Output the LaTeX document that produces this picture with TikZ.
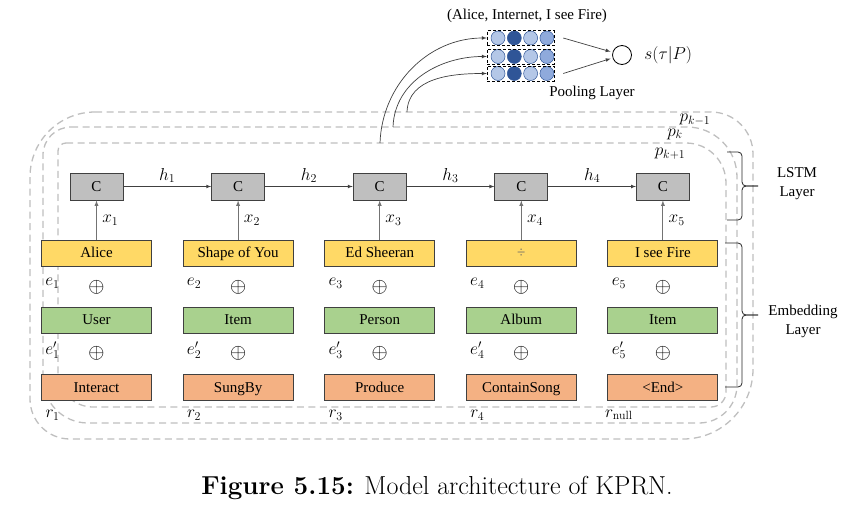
\documentclass[tikz,border=0pt]{standalone}
\usepackage{fontspec}
\newfontfamily\timesfont{Liberation Serif}
\usepackage{tikz}
\usetikzlibrary{shapes,arrows,positioning,calc}
\usepackage{xcolor}
\definecolor{entyellow}{HTML}{FFD966}
\definecolor{typgreen}{HTML}{A9D18E}
\definecolor{relorange}{HTML}{F4B183}
\definecolor{cellgray}{HTML}{BFBFBF}
\definecolor{poollight}{HTML}{B4C7E7}
\definecolor{pooldark}{HTML}{2F5597}
\definecolor{poolmid}{HTML}{8FAADC}

\begin{document}
\begin{tikzpicture}[x=1pt,y=1pt,
    lbl/.style={font=\timesfont\fontsize{15}{19}\selectfont},
    mth/.style={font=\fontsize{17}{19}\selectfont},
    plus/.style={font=\fontsize{21}{23}\selectfont},
    cell/.style={lbl, draw=black!75, line width=0.9pt, fill=cellgray, minimum width=53pt, minimum height=27pt, inner sep=0pt},
    emb/.style={lbl, draw=black!75, line width=0.9pt, minimum width=110pt, minimum height=26pt, inner sep=0pt, text height=10pt, text depth=1pt},
    pathline/.style={draw=black!25, line width=1.3pt, dash pattern=on 7pt off 4.5pt},
    xarrow/.style={-latex, draw=black!55, line width=0.9pt},
    harrow/.style={-latex, draw=black!75, line width=0.7pt},
    poolrow/.style={draw, densely dashed, line width=0.5pt, minimum width=67pt, minimum height=15pt, inner sep=0pt},
    ball/.style={circle, draw=pooldark, line width=0.5pt, minimum size=14pt, inner sep=0pt},
    bracket/.style={draw=black!85, line width=0.8pt, rounded corners=4pt}]
  \useasboundingbox (0,0) rectangle (864,-514);

  % dashed paths p_{k-1}, p_k, p_{k+1}
  \draw[pathline] (95,-112) -- (711,-112) arc[start angle=90,end angle=0,radius=42] -- (753,-369) arc[start angle=0,end angle=-90,radius=70] -- (70,-439) arc[start angle=270,end angle=180,radius=40] -- (30,-177) arc[start angle=180,end angle=90,radius=65] -- cycle;
  \draw[pathline] (71,-127) -- (687,-127) arc[start angle=90,end angle=0,radius=50] -- (737,-385) arc[start angle=0,end angle=-90,radius=38] -- (88,-423) arc[start angle=270,end angle=180,radius=45] -- (43,-155) arc[start angle=180,end angle=90,radius=28] -- cycle;
  \draw[pathline] (66,-143) -- (686,-143) arc[start angle=90,end angle=0,radius=40] -- (726,-392) arc[start angle=0,end angle=-90,radius=15] -- (93,-407) arc[start angle=270,end angle=180,radius=35] -- (58,-151) arc[start angle=180,end angle=90,radius=8] -- cycle;
  \node[mth] (pkm) at (695,-120) {$p_{k-1}$};
  \node[mth] (pk) at (675,-134) {$p_{k}$};
  \node[mth] (pkp) at (670,-154) {$p_{k+1}$};

  % one column per step of the path
  \foreach \i/\ent/\typ/\rel/\rs in {1/Alice/User/Interact/1, 2/Shape of You/Item/SungBy/2, 3/Ed Sheeran/Person/Produce/3, 4/{\color{black!60}÷}/Album/ContainSong/4, 5/I see Fire/Item/<End>/\mathrm{null}} {
    \pgfmathsetmacro{\cx}{96.5+(\i-1)*141.6}
    \node[cell] (cell\i) at (\cx,-186.5) {C};
    \node[emb, fill=entyellow] (ent\i) at (\cx,-253) {\ent};
    \node[emb, fill=typgreen] (typ\i) at (\cx,-320) {\typ};
    \node[emb, fill=relorange] (rel\i) at (\cx,-387.5) {\rel};
    \draw[xarrow] (ent\i) -- (cell\i) node[midway, right=2pt, mth] {$x_{\i}$};
    \node[plus] (plusA\i) at (\cx,-287) {$\oplus$};
    \node[plus] (plusB\i) at (\cx,-353) {$\oplus$};
    \node[mth] (e\i) at (\cx-44,-283) {$e_{\i}$};
    \node[mth] (ep\i) at (\cx-44,-350) {$e'_{\i}$};
    \node[mth] (r\i) at (\cx-44,-415) {$r_{\rs}$};
  }
  \foreach \i in {1,...,4} {
    \pgfmathtruncatemacro{\j}{\i+1}
    \draw[harrow] (cell\i) -- (cell\j) node[midway, above, mth] {$h_{\i}$};
  }

  % pooling layer
  \node[lbl] (pathtext) at (527,-16) {(Alice, Internet, I see Fire)};
  \foreach \k/\yy in {1/38, 2/56.5, 3/73.5} {
    \foreach \c/\n in {poollight/0, pooldark/1, poollight/2, poolmid/3}
      \node[ball, fill=\c] (ball\k\n) at (498+\n*16.3,-\yy) {};
    \node[poolrow] (pool\k) at (520.5,-\yy) {};
  }
  \node[circle, draw, line width=0.8pt, minimum size=19pt, inner sep=0pt] (score) at (622,-55) {};
  \node[mth, right=9pt of score] (scoretext) {$s(\tau|P)$};
  \node[lbl] (poolname) at (592,-93) {Pooling Layer};
  \draw[harrow, shorten >=2pt] ([xshift=9pt]pool1.east) -- (score);
  \draw[harrow, shorten >=2pt] ([xshift=9pt]pool3.east) -- (score);

  % paths feed the pooling layer
  \coordinate (tap1) at (380,-143);
  \coordinate (tap2) at (393,-127);
  \coordinate (tap3) at (407,-112);
  \draw[harrow] (tap1) to[out=88, in=180] (pool1.west);
  \draw[harrow] (tap2) to[out=88, in=180] (pool2.west);
  \draw[harrow] (tap3) to[out=88, in=180] (pool3.west);

  % layer braces
  \draw[bracket] (727,-152) -- (742,-152) -- (742,-186) -- (758,-186);
  \draw[bracket] (727,-220) -- (742,-220) -- (742,-186) -- (758,-186);
  \node[lbl, align=center] (lstmname) at (797,-184) {LSTM\\Layer};
  \draw[bracket] (725,-243) -- (742,-243) -- (742,-315) -- (758,-315);
  \draw[bracket] (725,-387) -- (742,-387) -- (742,-315) -- (758,-315);
  \node[lbl, align=center] (embname) at (803,-321) {Embedding\\Layer};

  \node[font=\fontsize{26}{30}\selectfont] (caption) at (437,-488) {\textbf{Figure 5.15:} Model architecture of KPRN.};
\end{tikzpicture}
\end{document}
